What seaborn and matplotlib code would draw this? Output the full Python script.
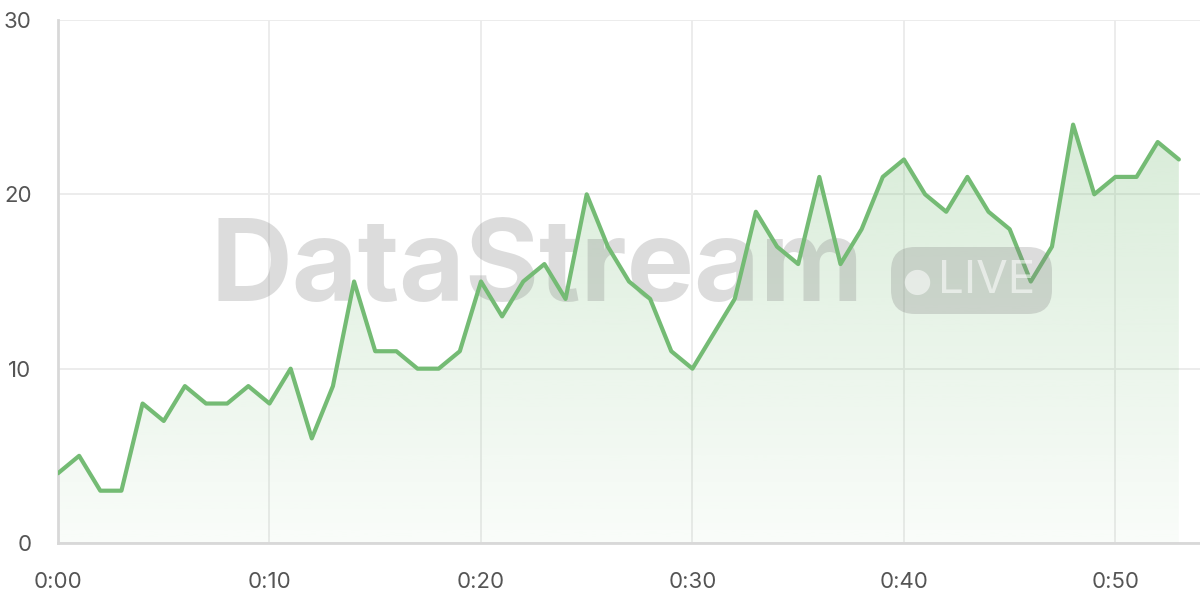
import numpy as np
import pandas as pd
import seaborn as sns
import matplotlib
matplotlib.use("Agg")
import matplotlib.pyplot as plt
from matplotlib.patches import FancyBboxPatch

minutes = list(range(54))
values = [4, 5, 3, 3, 8, 7, 9, 8, 8, 9,
          8, 10, 6, 9, 15, 11, 11, 10, 10, 11,
          15, 13, 15, 16, 14, 20, 17, 15, 14, 11,
          10, 12, 14, 19, 17, 16, 21, 16, 18, 21,
          22, 20, 19, 21, 19, 18, 15, 17, 24, 20,
          21, 21, 23, 22]
x_ticks = [0, 10, 20, 30, 40, 50]
x_tick_labels = ["0:00", "0:10", "0:20", "0:30", "0:40", "0:50"]
y_ticks = [0, 10, 20, 30]

df = pd.DataFrame({"minute": minutes, "value": values})

sns.set_theme(style="white")
plt.rcParams['font.family'] = ['Inter', 'DejaVu Sans']

fig = plt.figure(figsize=(12, 6), dpi=100)
ax = fig.add_axes([58/1200, 1 - 543/600, 1142/1200, 523/600])

line_color = "#74bb74"

# gradient fill under the line
poly = ax.fill_between(df["minute"], df["value"], 0, color="none", lw=0, zorder=1)
grad = np.linspace(0.28, 0.04, 256).reshape(-1, 1)
rgba = np.zeros((256, 1, 4))
rgba[..., 0] = 0x74 / 255
rgba[..., 1] = 0xbb / 255
rgba[..., 2] = 0x74 / 255
rgba[..., 3] = grad
img = ax.imshow(rgba, aspect="auto", extent=[0, 53, 0, max(values)], origin="upper", zorder=1)
img.set_clip_path(poly.get_paths()[0], transform=ax.transData)

sns.lineplot(data=df, x="minute", y="value", color=line_color, lw=3, ax=ax, zorder=4)

ax.set_xlim(0, 54)
ax.set_ylim(0, 30)
ax.set_xticks(x_ticks)
ax.set_xticklabels(x_tick_labels)
ax.set_yticks(y_ticks)
ax.set_xlabel("")
ax.set_ylabel("")

grid_c = "#ebebeb"
ax.grid(True, color=grid_c, lw=1.3, zorder=0)
for s in ["top", "right"]:
    ax.spines[s].set_visible(False)
for s in ["left", "bottom"]:
    ax.spines[s].set_color("#d8d8d8")
    ax.spines[s].set_linewidth(2)
ax.tick_params(axis="both", length=12, width=1.3, color=grid_c, labelsize=16,
               labelcolor="#555555")
ax.tick_params(axis="x", pad=9)
ax.tick_params(axis="y", pad=7)

# watermark
ax.text(210/1200, 1 - 271/600, "DataStream", transform=fig.transFigure,
        fontsize=81.5, fontweight="bold", color="#808080", alpha=0.27,
        ha="left", va="center", zorder=3, family=["Inter", "DejaVu Sans"])
pill = FancyBboxPatch((891/1200, 1 - 314/600), 161/1200, 67/600,
                      boxstyle="round,pad=0,rounding_size=0.02",
                      transform=fig.transFigure, facecolor="#808080", alpha=0.27,
                      edgecolor="none", zorder=3, mutation_aspect=2)
fig.patches.append(pill)
fig.text(917/1200, 1 - 281/600, "\u25cf", fontsize=24, color="white", alpha=0.55,
         ha="center", va="center", family=["DejaVu Sans"])
fig.text(938/1200, 1 - 281/600, "LIVE", fontsize=33, color="white", alpha=0.55,
         ha="left", va="center", family=["Inter", "DejaVu Sans"])

fig.savefig("out.png", dpi=100)
